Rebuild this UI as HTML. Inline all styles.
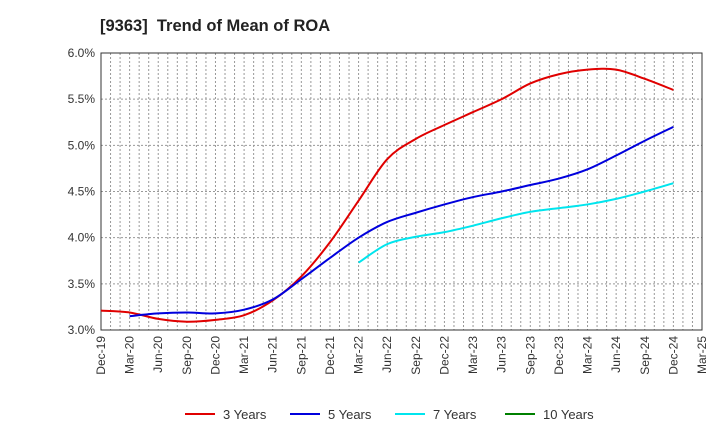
<!DOCTYPE html>
<html><head><meta charset="utf-8"><style>
body{margin:0;background:#fff;font-family:"Liberation Sans",sans-serif}
</style></head><body>
<svg id="c" width="720" height="440" xmlns="http://www.w3.org/2000/svg">
<text x="100" y="31" font-size="16.5" font-weight="bold" fill="#222" xml:space="preserve">[9363]  Trend of Mean of ROA</text>
<g id="grid"></g><g id="axes"></g><g id="series"></g><g id="legend"></g>
</svg>
<script>
const xLabels=["Dec-19","Mar-20","Jun-20","Sep-20","Dec-20","Mar-21","Jun-21","Sep-21","Dec-21","Mar-22","Jun-22","Sep-22","Dec-22","Mar-23","Jun-23","Sep-23","Dec-23","Mar-24","Jun-24","Sep-24","Dec-24","Mar-25"];
const yTicks=[3.0,3.5,4.0,4.5,5.0,5.5,6.0];
const s3=[3.21,3.19,3.12,3.09,3.11,3.16,3.32,3.58,3.95,4.40,4.85,5.07,5.22,5.36,5.50,5.67,5.77,5.82,5.82,5.72,5.60];
const s5=[3.15,3.18,3.19,3.18,3.22,3.33,3.55,3.78,4.00,4.17,4.27,4.36,4.44,4.50,4.57,4.64,4.74,4.89,5.05,5.20];
const s7=[3.73,3.93,4.01,4.06,4.13,4.21,4.28,4.32,4.36,4.42,4.50,4.59];
const s10=[];
const starts=[0,1,9,0];
const names=["3 Years","5 Years","7 Years","10 Years"];
const colors=["#e00000","#0000dd","#00e5ee","#008000"];
const L=101,R=702,T=53,B=330;
const xq=i=>L+i*(R-L)/63*3;
const xm=m=>L+m*(R-L)/63;
const y=v=>B-(v-3)/3*(B-T);
const NS="http://www.w3.org/2000/svg";
function mk(p,t,a){const e=document.createElementNS(NS,t);for(const k in a)e.setAttribute(k,a[k]);p.appendChild(e);return e;}
const g=document.getElementById('grid'),ax=document.getElementById('axes'),se=document.getElementById('series'),lg=document.getElementById('legend');
for(let m=1;m<63;m++){const l=mk(g,'line',{x1:xm(m),x2:xm(m),y1:T,y2:B,stroke:'#999','stroke-dasharray':'2,2','stroke-width':1});

}
yTicks.forEach(v=>{const l=mk(g,'line',{x1:L,x2:R,y1:y(v),y2:y(v),stroke:'#999','stroke-dasharray':'2,2'});


const t=mk(ax,'text',{x:L-6,y:y(v)+4,'text-anchor':'end','font-size':12,fill:'#333'});t.textContent=v.toFixed(1)+'%';

});
const fr=mk(ax,'rect',{x:L,y:T,width:R-L,height:B-T,fill:'none',stroke:'#333'});


xLabels.forEach((s,i)=>{const x=xq(i);const t=mk(ax,'text',{x:x+4,y:B+6,'text-anchor':'end','font-size':12,fill:'#333',transform:`rotate(-90 ${x+4} ${B+6})`});t.textContent=s;

});
function path(pts){if(!pts.length)return '';let d=`M${pts[0][0]},${pts[0][1]}`;for(let i=0;i<pts.length-1;i++){const p0=pts[i-1]||pts[i],p1=pts[i],p2=pts[i+1],p3=pts[i+2]||p2;
d+=` C${p1[0]+(p2[0]-p0[0])/6},${p1[1]+(p2[1]-p0[1])/6} ${p2[0]-(p3[0]-p1[0])/6},${p2[1]-(p3[1]-p1[1])/6} ${p2[0]},${p2[1]}`;}return d;}
[s3,s5,s7,s10].forEach((s,k)=>{const pts=s.map((v,i)=>[xq(i+starts[k]),y(v)]);const p=mk(se,'path',{d:path(pts),fill:'none',stroke:colors[k],'stroke-width':2});


const lx=[185,290,395,505][k];
const ll=mk(lg,'line',{x1:lx,x2:lx+30,y1:414,y2:414,stroke:colors[k],'stroke-width':2});


const lt=mk(lg,'text',{x:lx+38,y:419,'font-size':13,fill:'#333'});lt.textContent=names[k];

});
</script>
</body></html>
